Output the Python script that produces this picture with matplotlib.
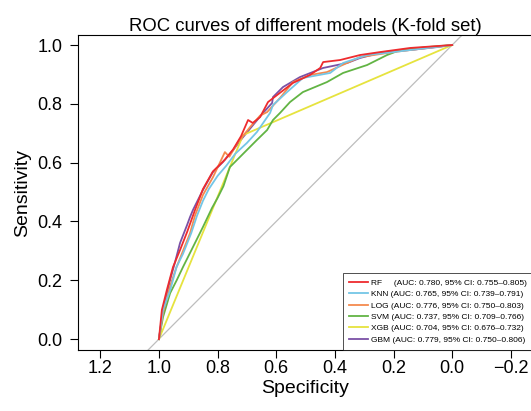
import matplotlib
matplotlib.use("Agg")
import matplotlib.pyplot as plt

# ROC curve points (specificity, sensitivity)
rf_spec = [1.0, 0.990, 0.973, 0.952, 0.928, 0.904, 0.877, 0.850, 0.816, 0.775, 0.747, 0.720,
           0.696, 0.680, 0.655, 0.628, 0.597, 0.543, 0.485, 0.450, 0.440, 0.382, 0.314, 0.246,
           0.143, 0.0]
rf_sens = [0.0, 0.099, 0.167, 0.245, 0.303, 0.364, 0.439, 0.510, 0.570, 0.610, 0.645, 0.690,
           0.745, 0.735, 0.755, 0.806, 0.830, 0.871, 0.898, 0.922, 0.942, 0.949, 0.966, 0.976,
           0.990, 1.0]

knn_spec = [1.0, 0.986, 0.962, 0.940, 0.918, 0.890, 0.870, 0.850, 0.830, 0.800, 0.770, 0.740,
            0.700, 0.666, 0.621, 0.611, 0.563, 0.509, 0.416, 0.372, 0.290, 0.201, 0.085, 0.0]
knn_sens = [0.0, 0.100, 0.165, 0.245, 0.290, 0.360, 0.420, 0.470, 0.510, 0.555, 0.590, 0.630,
            0.667, 0.704, 0.769, 0.796, 0.840, 0.888, 0.905, 0.939, 0.966, 0.976, 0.990, 1.0]

log_spec = [1.0, 0.986, 0.962, 0.940, 0.918, 0.894, 0.877, 0.850, 0.816, 0.775, 0.760, 0.730,
            0.690, 0.655, 0.631, 0.587, 0.543, 0.485, 0.427, 0.314, 0.201, 0.085, 0.0]
log_sens = [0.0, 0.090, 0.180, 0.245, 0.300, 0.360, 0.420, 0.490, 0.550, 0.636, 0.620, 0.670,
            0.720, 0.760, 0.772, 0.820, 0.874, 0.898, 0.908, 0.959, 0.976, 0.990, 1.0]

svm_spec = [1.0, 0.986, 0.962, 0.939, 0.918, 0.884, 0.850, 0.819, 0.800, 0.780, 0.758, 0.724,
            0.666, 0.631, 0.611, 0.587, 0.553, 0.509, 0.427, 0.372, 0.290, 0.222, 0.177, 0.085, 0.0]
svm_sens = [0.0, 0.075, 0.156, 0.201, 0.245, 0.313, 0.381, 0.446, 0.480, 0.520, 0.585, 0.619,
            0.677, 0.711, 0.745, 0.769, 0.806, 0.840, 0.874, 0.905, 0.932, 0.966, 0.983, 0.993, 1.0]

xgb_spec = [1.0, 0.713, 0.0]
xgb_sens = [0.0, 0.694, 1.0]

gbm_spec = [1.0, 0.986, 0.962, 0.945, 0.928, 0.904, 0.894, 0.884, 0.867, 0.850, 0.816, 0.782,
            0.747, 0.713, 0.679, 0.645, 0.614, 0.611, 0.577, 0.519, 0.440, 0.358, 0.314, 0.235,
            0.143, 0.051, 0.0]
gbm_sens = [0.0, 0.099, 0.201, 0.262, 0.327, 0.388, 0.415, 0.439, 0.473, 0.507, 0.568, 0.602,
            0.643, 0.687, 0.728, 0.769, 0.803, 0.823, 0.857, 0.891, 0.922, 0.939, 0.956, 0.976,
            0.983, 0.993, 1.0]

labels = [
    "RF     (AUC: 0.780, 95% CI: 0.755\u20130.805)",
    "KNN (AUC: 0.765, 95% CI: 0.739\u20130.791)",
    "LOG (AUC: 0.776, 95% CI: 0.750\u20130.803)",
    "SVM (AUC: 0.737, 95% CI: 0.709\u20130.766)",
    "XGB (AUC: 0.704, 95% CI: 0.676\u20130.732)",
    "GBM (AUC: 0.779, 95% CI: 0.750\u20130.806)",
]
colors = ["#EE2B2E", "#74C6E6", "#F58A4E", "#62B444", "#E6E33E", "#7B51A6"]
curves = [(rf_spec, rf_sens), (knn_spec, knn_sens), (log_spec, log_sens),
          (svm_spec, svm_sens), (xgb_spec, xgb_sens), (gbm_spec, gbm_sens)]

plt.rcParams["font.family"] = ["Liberation Sans", "DejaVu Sans"]

fig = plt.figure(figsize=(5.31, 4.11), dpi=100)
ax = fig.add_axes([0.1469, 0.1484, 0.857, 0.7664])

# chance diagonal
ax.plot([1.4, -0.4], [-0.4, 1.4], color="#BDBDBD", lw=0.9, zorder=1)

# draw in reverse so RF ends up on top like the reference
for (sp, se), c, lab in list(zip(curves, colors, labels))[::-1]:
    ax.plot(sp, se, color=c, lw=1.3, label=lab, zorder=2)

ax.set_xlim(1.276, -0.276)
ax.set_ylim(-0.037, 1.034)
ax.set_xticks([1.2, 1.0, 0.8, 0.6, 0.4, 0.2, 0.0, -0.2])
ax.set_xticklabels(["1.2", "1.0", "0.8", "0.6", "0.4", "0.2", "0.0", "\u22120.2"])
ax.set_yticks([0.0, 0.2, 0.4, 0.6, 0.8, 1.0])
ax.set_yticklabels(["0.0", "0.2", "0.4", "0.6", "0.8", "1.0"])
ax.tick_params(direction="out", length=5.5, width=0.8, labelsize=13)
ax.tick_params(axis="x", pad=1.5)
ax.tick_params(axis="y", pad=5.5)
for s in ax.spines.values():
    s.set_linewidth(0.8)

ax.set_xlabel("Specificity", fontsize=14, labelpad=2)
ax.set_ylabel("Sensitivity", fontsize=14, labelpad=5)
ax.set_title("ROC curves of different models (K-fold set)", fontsize=13.3, pad=2)

handles, labs = ax.get_legend_handles_labels()
leg = ax.legend(handles[::-1], labs[::-1], loc="lower right", borderaxespad=0,
                fontsize=6.0, frameon=True, fancybox=False, edgecolor="black",
                handlelength=2.2, handletextpad=0.4, labelspacing=0.43,
                borderpad=0.75)
leg.get_frame().set_linewidth(0.6)

fig.savefig("out.png", dpi=100)
